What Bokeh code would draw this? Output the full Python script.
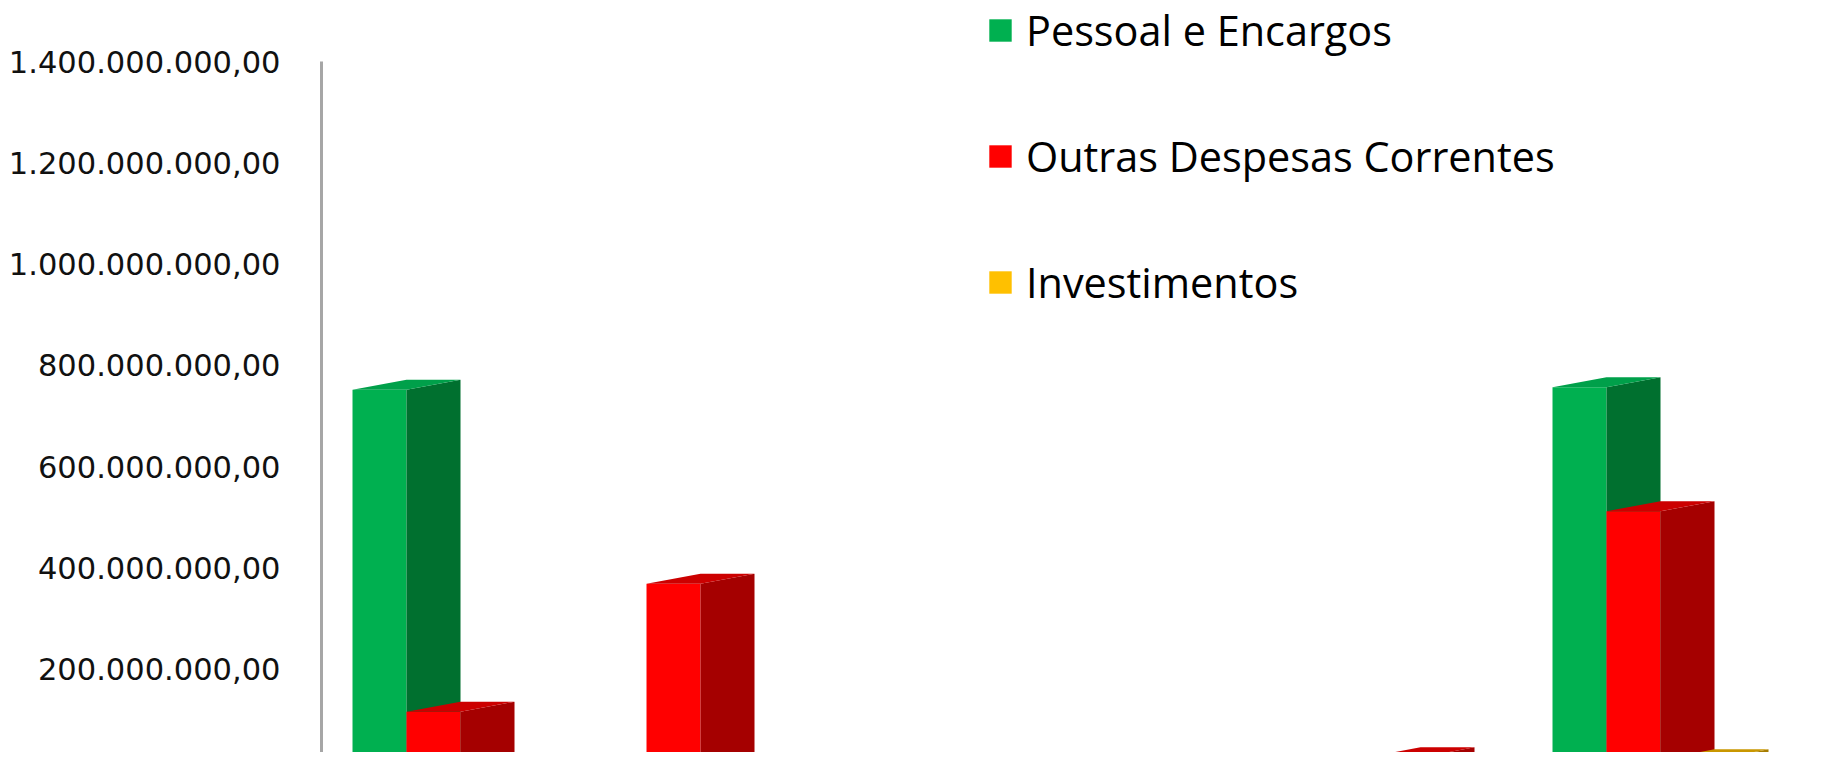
from bokeh.plotting import figure
from bokeh.models import Range1d, FixedTicker, Legend, LegendItem
from bokeh.embed import file_html
from bokeh.resources import INLINE

# ---- data ----
categories = ["Categoria 1", "Categoria 2", "Categoria 3", "Categoria 4", "Categoria 5", "Categoria 6"]
series_names = ["Pessoal e Encargos", "Outras Despesas Correntes", "Investimentos"]
pessoal = [752e6, 2e6, 1.5e6, 1.5e6, 3e6, 757e6]
outras = [116e6, 369e6, 1e6, 2e6, 26e6, 512e6]
investimentos = [3e6, 12e6, 1e6, 1e6, 1e6, 22e6]
tick_values = [200e6, 400e6, 600e6, 800e6, 1000e6, 1200e6, 1400e6]
tick_labels = ["200.000.000,00", "400.000.000,00", "600.000.000,00", "800.000.000,00",
               "1.000.000.000,00", "1.200.000.000,00", "1.400.000.000,00"]

# ---- styles ----
front_colors = ["#00B050", "#FF0000", "#FFC000"]
side_colors = ["#00702F", "#A50000", "#A67C00"]
top_colors = ["#00A04A", "#CC0000", "#C99700"]

W = 1823
H = 752
LEFT = 321
x_lo = 0.5333
x_hi = x_lo + (W - LEFT) / 240.0
ZERO_PX = 770                       # pixel row of value 0 (just below the visible area)
px_per_val = (ZERO_PX - 61) / 1400e6
y_hi = ZERO_PX / px_per_val
y_lo = (ZERO_PX - H) / px_per_val
bar_w = 0.225
depth_dx = 0.225
depth_dy = 10 / px_per_val

p = figure(width=W, height=H, output_backend="svg", toolbar_location=None,
           x_range=Range1d(x_lo, x_hi), y_range=Range1d(y_lo, y_hi),
           min_border_left=LEFT, min_border_right=0, min_border_top=0, min_border_bottom=0)
p.outline_line_color = None
p.xgrid.visible = False
p.ygrid.visible = False
p.xaxis.visible = False
p.background_fill_color = "white"
p.border_fill_color = "white"

yax = p.yaxis[0]
yax.ticker = FixedTicker(ticks=tick_values)
yax.major_label_overrides = {v: s for v, s in zip(tick_values, tick_labels)}
yax.bounds = (0, tick_values[-1])
yax.axis_line_color = "#A6A6A6"
yax.axis_line_width = 3
yax.major_tick_line_color = None
yax.minor_tick_line_color = None
yax.major_tick_out = 0
yax.major_tick_in = 0
yax.major_label_standoff = 41
yax.major_label_text_font = "DejaVu Sans"
yax.major_label_text_font_size = "30.5px"
yax.major_label_text_color = "#111111"

# floor (back edge and right edge)
floor_right_front = 6.633
p.line([x_lo, floor_right_front + depth_dx], [depth_dy, depth_dy], line_color="#A6A6A6", line_width=3)
p.line([floor_right_front, floor_right_front + depth_dx], [0, depth_dy], line_color="#A6A6A6", line_width=2)

all_series = [pessoal, outras, investimentos]
front_renderers = []
for j, vals in enumerate(all_series):
    lefts, rights, tops = [], [], []
    side_xs, side_ys, top_xs, top_ys = [], [], [], []
    for k, v in enumerate(vals):
        c = k + 1
        x0 = c + (j - 1.5) * bar_w
        x1 = x0 + bar_w
        lefts.append(x0); rights.append(x1); tops.append(v)
        side_xs.append([x1, x1 + depth_dx, x1 + depth_dx, x1])
        side_ys.append([0, depth_dy, v + depth_dy, v])
        top_xs.append([x0, x1, x1 + depth_dx, x0 + depth_dx])
        top_ys.append([v, v, v + depth_dy, v + depth_dy])
    fr = p.quad(left=lefts, right=rights, bottom=0, top=tops,
                fill_color=front_colors[j], line_color=None)
    p.patches(side_xs, side_ys, fill_color=side_colors[j], line_color=None)
    p.patches(top_xs, top_ys, fill_color=top_colors[j], line_color=None)
    front_renderers.append(fr)

legend = Legend(items=[LegendItem(label=n, renderers=[r]) for n, r in zip(series_names, front_renderers)],
                location=(665, 442), orientation="vertical",
                glyph_width=28, glyph_height=28, label_height=56, spacing=70,
                label_standoff=12, padding=0, margin=0,
                label_text_font="Open Sans", label_text_font_size="41.4px",
                label_text_color="#000000",
                border_line_color=None, background_fill_alpha=0)
p.add_layout(legend, "center")

open("out.html", "w").write(file_html(p, INLINE))
